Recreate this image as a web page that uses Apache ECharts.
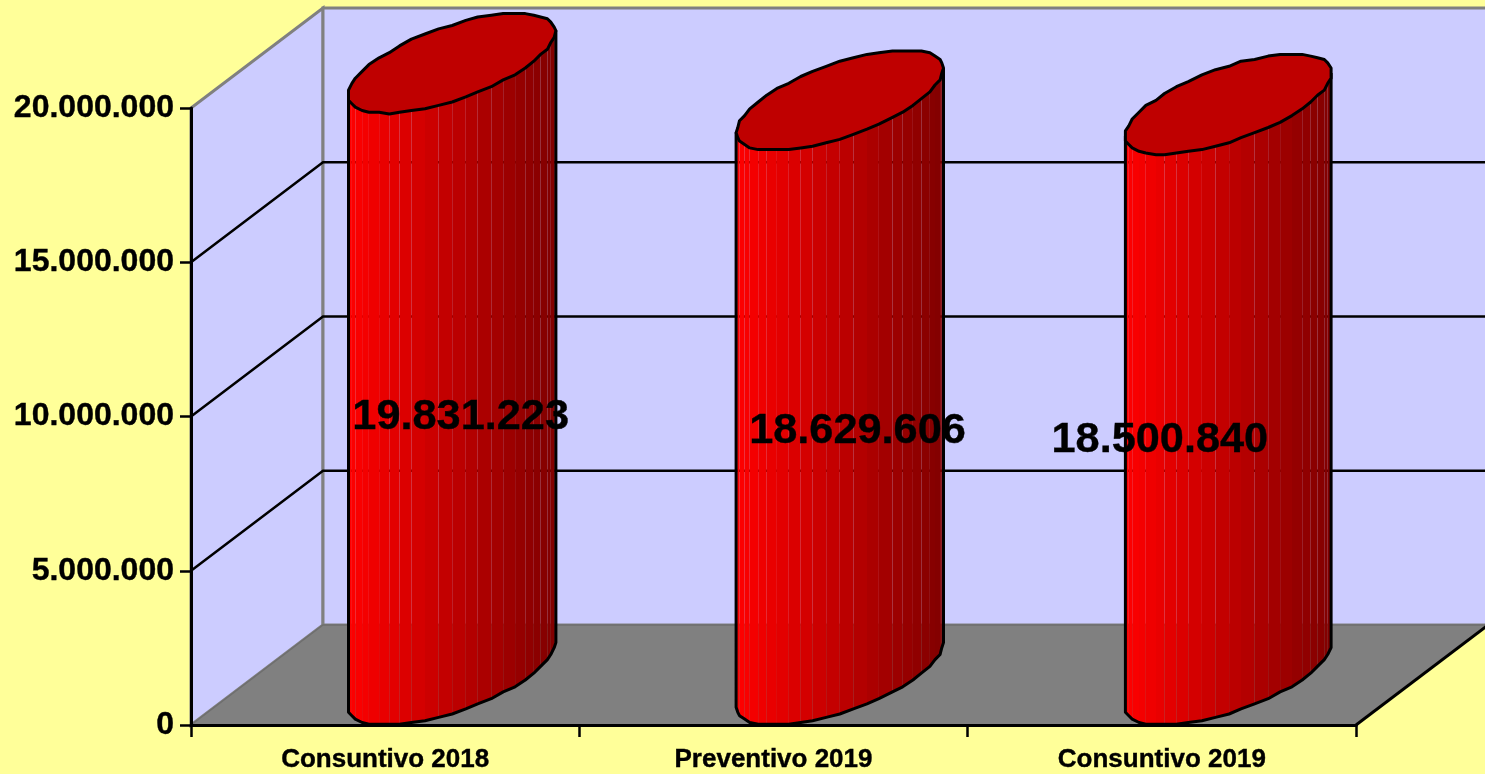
<!DOCTYPE html>
<html>
<head>
<meta charset="utf-8">
<style>
  html, body { margin: 0; padding: 0; background: #FFFF99; }
  #main { width: 1485px; height: 774px; }
</style>
<script src="https://cdn.jsdelivr.net/npm/echarts@6/dist/echarts.min.js"></script>
</head>
<body>
<div id="main"></div>
<script>
var categories = ['Consuntivo 2018', 'Preventivo 2019', 'Consuntivo 2019'];
var values = [19831223, 18629606, 18500840];
var gridValues = [5000000, 10000000, 15000000];
var axisMax = 20000000;
var axisStep = 5000000;

// 3d look: how far the back wall sits from the front plane
var depthX = 132;
var depthY = -100;
var facets = 48;
var snap = 1.7;
// data labels do not sit at the same spot on each bar in the original
var labelShift = [[9.5, -2], [18, -7], [-68, 0]];

function dots(v) {
    return String(v).replace(/\B(?=(\d{3})+(?!\d))/g, '.');
}

function rnd(p) {
    return Math.round(p / snap) * snap;
}

function renderWalls(params, api) {
    var band = api.size([1, 0])[0];
    var left = api.coord([0, 0])[0] - band / 2;
    var right = api.coord([2, 0])[0] + band / 2;
    var y0 = api.coord([0, 0])[1];
    var yTop = api.coord([0, axisMax])[1];
    var kids = [];
    var wall = { fill: '#CCCCFF', stroke: '#808080', lineWidth: 3 };
    kids.push({ type: 'polygon', shape: { points: [[left, y0], [left, yTop], [left + depthX, yTop + depthY], [left + depthX, y0 + depthY]] }, style: wall });
    kids.push({ type: 'polygon', shape: { points: [[left + depthX, yTop + depthY], [right + depthX + 5, yTop + depthY], [right + depthX + 5, y0 + depthY], [left + depthX, y0 + depthY]] }, style: wall });
    kids.push({ type: 'polygon', shape: { points: [[left, y0], [right, y0], [right + depthX, y0 + depthY], [left + depthX, y0 + depthY]] }, style: { fill: '#808080', stroke: '#6e6e6e', lineWidth: 1.5 } });
    kids.push({ type: 'line', shape: { x1: right, y1: y0, x2: right + depthX, y2: y0 + depthY }, style: { stroke: '#000', lineWidth: 3 } });
    gridValues.forEach(function (v) {
        var y = api.coord([0, v])[1];
        kids.push({ type: 'polyline', shape: { points: [[left, y], [left + depthX, y + depthY], [right + depthX + 5, y + depthY]] }, style: { fill: null, stroke: '#000', lineWidth: 2.5 } });
    });
    return { type: 'group', children: kids };
}

function renderBar(params, api) {
    var base = api.coord([params.dataIndex, 0]);
    var top = api.coord([params.dataIndex, api.value(1)]);
    var band = api.size([1, 0])[0];
    var ux = band * 0.2052;
    var vx = depthX / 2;
    var vy = depthY / 2;
    var cx = base[0] + vx + 0.5;
    var cyBase = base[1] + vy;
    var cyTop = top[1] + vy;
    var halfW = Math.sqrt(ux * ux + vx * vx);
    var phi = Math.atan2(vx, ux);

    function ring(i, cy) {
        var t = phi + Math.PI + i / facets * Math.PI * 2;
        return [rnd(cx + ux * Math.cos(t) + vx * Math.sin(t)), rnd(cy + vy * Math.sin(t))];
    }

    var kids = [];
    var half = facets / 2;
    for (var i = 0; i < half; i++) {
        var a = ring(i, cyBase);
        var b = ring(i + 1, cyBase);
        var c = ring(i + 1, cyTop);
        var d = ring(i, cyTop);
        var mid = (a[0] + b[0]) / 2;
        var f = (mid - (cx - halfW)) / (2 * halfW);
        var red = Math.round(255 - f * 127);
        kids.push({ type: 'polygon', shape: { points: [a, b, [b[0], c[1]], [a[0], d[1]]] }, style: { fill: 'rgb(' + red + ',0,0)' } });
    }
    var outline = [];
    outline.push(ring(0, cyTop));
    for (var j = 0; j <= half; j++) {
        outline.push(ring(j, cyBase));
    }
    outline.push(ring(half, cyTop));
    kids.push({ type: 'polyline', shape: { points: outline }, style: { fill: null, stroke: '#000', lineWidth: 3, lineJoin: 'round' } });

    var cap = [];
    for (var k = 0; k < facets; k++) {
        cap.push(ring(k, cyTop));
    }
    kids.push({ type: 'polygon', shape: { points: cap }, style: { fill: '#BF0000', stroke: '#000', lineWidth: 3, lineJoin: 'round' } });
    return { type: 'group', children: kids };
}

function renderLabel(params, api) {
    var base = api.coord([params.dataIndex, 0]);
    var top = api.coord([params.dataIndex, api.value(1)]);
    var s = labelShift[params.dataIndex];
    return {
        type: 'text',
        style: {
            x: base[0] + depthX / 2 + s[0],
            y: (base[1] + top[1]) / 2 + s[1],
            text: dots(api.value(1)),
            fill: '#000',
            stroke: '#000',
            lineWidth: 0.4,
            font: 'bold 43.3px "Liberation Sans", Arial, sans-serif',
            align: 'center',
            verticalAlign: 'middle'
        }
    };
}

var seriesData = values.map(function (v, i) { return [i, v]; });

var chart = echarts.init(document.getElementById('main'));
var option = {
    animation: false,
    backgroundColor: '#FFFF99',
    grid: { left: 191, right: 129, top: 108, bottom: 49 },
    xAxis: {
        type: 'category',
        data: categories,
        z: 6,
        axisLine: { lineStyle: { color: '#000', width: 3 } },
        axisTick: { show: true, length: 12, alignWithLabel: false, lineStyle: { color: '#000', width: 2.5 } },
        axisLabel: { interval: 0, margin: 22, color: '#000', fontFamily: 'Liberation Sans', fontWeight: 'bold', fontSize: 26, textBorderColor: '#000', textBorderWidth: 0.4 }
    },
    yAxis: {
        type: 'value',
        min: 0,
        max: axisMax,
        interval: axisStep,
        z: 6,
        splitLine: { show: false },
        axisLine: { show: true, lineStyle: { color: '#000', width: 3 } },
        axisTick: { show: true, length: 11, lineStyle: { color: '#000', width: 2.5 } },
        axisLabel: { margin: 17, padding: [9, 0, 0, 0], color: '#000', fontFamily: 'Liberation Sans', fontWeight: 'bold', fontSize: 32, textBorderColor: '#000', textBorderWidth: 0.4, formatter: dots }
    },
    series: [
        { type: 'custom', silent: true, z: 1, renderItem: renderWalls, data: [[0, 0]], encode: { x: 0, y: 1 } },
        { type: 'custom', silent: true, z: 2, renderItem: renderBar, data: seriesData, encode: { x: 0, y: 1 } },
        { type: 'custom', silent: true, z: 8, renderItem: renderLabel, data: seriesData, encode: { x: 0, y: 1 } }
    ]
};
chart.setOption(option);
</script>
</body>
</html>
